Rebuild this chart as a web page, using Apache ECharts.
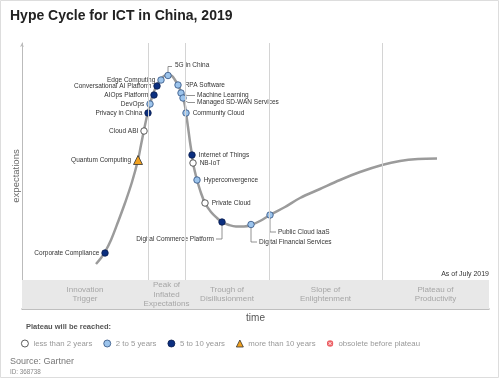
<!DOCTYPE html>
<html><head><meta charset="utf-8">
<script src="https://cdn.jsdelivr.net/npm/echarts@6/dist/echarts.min.js"></script>
<style>html,body{margin:0;padding:0;background:#fff}#c{width:500px;height:379px}</style>
</head><body><div id="c"></div>
<script>
// ---------- data ----------
const curveX = [74,79,83,89,96,103,110,116,119,122,125,128,131,135,139,142,146,150,153,156,159,161,163,164,166,168,170,171,173,175,179,183,189,195,200,207,214,222,229,238,248,263,278,298,318,338,360,378,396,415];
const curveY = [45,51,57,69,87,106,127,149,164,179,193,205,215,224,230,233,234.5,233,229,224,217,211,203,196,182,167,154,146,137,129,116,106,97,91,87,84,82.5,82.5,84,88,94,102,111,120,129,137,144,148,150,150.5];

const techNames = ['Corporate Compliance','Quantum Computing','Cloud ABI','Privacy in China','DevOps','AIOps Platform','Conversational AI Platform','Edge Computing','5G in China','RPA Software','Machine Learning','Managed SD-WAN Services','Community Cloud','Internet of Things','NB-IoT','Hyperconvergence','Private Cloud','Digital Commerce Platform','Digital Financial Services','Public Cloud IaaS'];
const techX = [83,116,122,126,128,132,135,139,146,156,159,161,164,170,171,175,183,200,229,248];
const techY = [56,149,178,196,205,214,223,229,233.5,224,216,211,196,154,146,129,106,87,84.5,94];
const techPlateau = [2,3,0,2,1,2,2,1,1,1,1,1,1,2,0,1,0,2,1,1];

const plateauCategories = ['less than 2 years','2 to 5 years','5 to 10 years','more than 10 years','obsolete before plateau'];
const phaseNames = ['Innovation\nTrigger','Peak of\nInflated\nExpectations','Trough of\nDisillusionment','Slope of\nEnlightenment','Plateau of\nProductivity'];
const phaseBounds = [0,126,163,247,360,467];
const xMax = 467, yMax = 266, bandTop = 29;

// ---------- layout / style ----------
const FONT = "'Liberation Sans', Arial, Helvetica, sans-serif";
const leftLabels = ['Corporate Compliance','Quantum Computing','Cloud ABI','Privacy in China','DevOps','AIOps Platform','Conversational AI Platform','Edge Computing'];
const leaders = {
  '5G in China': {path:[[0,-3],[0,-9],[4,-9]], text:[7,-10], align:'left'},
  'Machine Learning': {path:[[3,1],[6,2.5],[14,2.5]], text:[16,2], align:'left'},
  'Managed SD-WAN Services': {path:[[2,2.5],[5,4.5],[12,4.5]], text:[14,4.5], align:'left'},
  'Digital Commerce Platform': {path:[[0,3],[0,17],[-6,17]], text:[-8,17], align:'right'},
  'Digital Financial Services': {path:[[0,3],[0,17.5],[6,17.5]], text:[8,17.5], align:'left'},
  'Public Cloud IaaS': {path:[[0,3],[0,17],[6,17]], text:[8,17], align:'left'}
};
const catStyle = [
  {symbol:'circle', size:6.5, color:'#ffffff', border:'#333333'},
  {symbol:'circle', size:6.5, color:'#9cc4ec', border:'#2f4f7f'},
  {symbol:'circle', size:6.5, color:'#0b2f80', border:'#0a1d4d'},
  {symbol:'triangle', size:9, color:'#f2a11f', border:'#333333'}
];
const obsoleteIcon = 'image://data:image/svg+xml;charset=utf-8,' + encodeURIComponent(
  '<svg xmlns="http://www.w3.org/2000/svg" width="16" height="16"><circle cx="8" cy="8" r="7.5" fill="#e8393f"/><path d="M5 5L11 11M11 5L5 11" stroke="#fff" stroke-width="2.2"/></svg>');

const chart = echarts.init(document.getElementById('c'), null, {renderer:'canvas'});

const scatterSeries = catStyle.map((s, ci) => ({
  name: plateauCategories[ci],
  type: 'scatter',
  z: 4,
  symbol: s.symbol,
  symbolSize: s.size,
  itemStyle: {color: s.color, borderColor: s.border, borderWidth: 0.8, opacity: 1},
  label: {show: true, fontSize: 6.5, fontFamily: FONT, color: '#333', formatter: '{b}'},
  emphasis: {disabled: true},
  data: techNames.map((n, i) => ({n, i})).filter(o => techPlateau[o.i] === ci).map(o => ({
    name: o.n,
    value: [techX[o.i], techY[o.i]],
    label: leaders[o.n] ? {show: false} :
      {show: true, position: leftLabels.includes(o.n) ? 'left' : 'right', distance: leftLabels.includes(o.n) ? 2 : 3}
  }))
}));

const leaderNames = techNames.filter(n => leaders[n]);

const option = {
  animation: false,
  title: {text: 'Hype Cycle for ICT in China, 2019', left: 10, top: 9, padding: 0,
    textStyle: {fontSize: 14, fontWeight: 'bold', color: '#222', fontFamily: FONT}},
  grid: {left: 22, top: 43, width: 467, height: 266, containLabel: false},
  xAxis: {type: 'value', min: 0, max: xMax,
    axisLine: {show: true, lineStyle: {color: '#aaaaaa', width: 1.5}},
    axisTick: {show: false}, axisLabel: {show: false}, splitLine: {show: false},
    name: 'time', nameLocation: 'middle', nameGap: 4,
    nameTextStyle: {color: '#555', fontSize: 10, fontFamily: FONT}},
  yAxis: {type: 'value', min: 0, max: yMax,
    axisLine: {show: true, symbol: ['none','arrow'], symbolSize: [3,4], lineStyle: {color: '#bbbbbb', width: 1}},
    axisTick: {show: false}, axisLabel: {show: false}, splitLine: {show: false},
    name: 'expectations', nameLocation: 'middle', nameGap: 1, nameRotate: 90,
    nameTextStyle: {color: '#666', fontSize: 9.5, fontFamily: FONT}},
  legend: {
    left: 21, top: 339.5, padding: 0, itemWidth: 7, itemHeight: 7, itemGap: 11,
    selectedMode: false,
    itemStyle: {borderWidth: 0.8},
    textStyle: {color: '#999', fontSize: 7.8, fontFamily: FONT},
    data: plateauCategories.map((n, i) => i === 4 ? {name: n, icon: obsoleteIcon} : {name: n})
  },
  graphic: [
    {type: 'rect', silent: true, z: -10, shape: {x: 0.5, y: 0.5, width: 498, height: 377},
      style: {fill: 'none', stroke: '#dddddd', lineWidth: 1}},
    {type: 'text', x: 489, y: 274, silent: true,
      style: {text: 'As of July 2019', align: 'right', verticalAlign: 'middle', font: '7px ' + FONT, fill: '#333'}},
    {type: 'text', x: 26, y: 327, silent: true,
      style: {text: 'Plateau will be reached:', verticalAlign: 'middle', font: 'bold 7.5px ' + FONT, fill: '#555'}},
    {type: 'text', x: 10, y: 362, silent: true,
      style: {text: 'Source: Gartner', verticalAlign: 'middle', font: '9px ' + FONT, fill: '#777'}},
    {type: 'text', x: 10, y: 372, silent: true,
      style: {text: 'ID: 368738', verticalAlign: 'middle', font: '6.3px ' + FONT, fill: '#888'}}
  ],
  series: [
    {
      name: 'phases', type: 'line', z: 1, silent: true,
      data: [[0, 0]], symbol: 'none', lineStyle: {opacity: 0},
      markArea: {
        silent: true,
        itemStyle: {color: '#e8e8e8'},
        label: {show: true, position: 'inside', color: '#a6a6a6', fontSize: 8, lineHeight: 9.5, fontFamily: FONT},
        data: phaseNames.map((n, i) => [{name: n, xAxis: phaseBounds[i], yAxis: 0}, {xAxis: phaseBounds[i+1], yAxis: bandTop}])
      },
      markLine: {
        silent: true, symbol: 'none', label: {show: false},
        lineStyle: {color: '#d4d4d4', width: 1, type: 'solid'},
        data: phaseBounds.slice(1, -1).map(x => [{coord: [x, bandTop]}, {coord: [x, yMax]}])
      }
    },
    {
      name: 'curve', type: 'line', z: 2, silent: true, smooth: 0.35, symbol: 'none',
      lineStyle: {color: '#9b9b9b', width: 2.5},
      data: curveX.map((x, i) => [x, curveY[i]])
    },
    {
      name: 'leaders', type: 'custom', z: 3, silent: true,
      coordinateSystem: 'cartesian2d',
      data: leaderNames.map(n => { const i = techNames.indexOf(n); return [techX[i], techY[i], leaderNames.indexOf(n)]; }),
      renderItem: function (params, api) {
        const p = api.coord([api.value(0), api.value(1)]);
        const name = leaderNames[api.value(2)];
        const L = leaders[name];
        return {type: 'group', children: [
          {type: 'polyline', shape: {points: L.path.map(d => [p[0] + d[0], p[1] + d[1]])},
            style: {stroke: '#777', lineWidth: 0.8, fill: null}},
          {type: 'text', style: {text: name, x: p[0] + L.text[0], y: p[1] + L.text[1], align: L.align,
            verticalAlign: 'middle', font: '6.5px ' + FONT, fill: '#333'}}
        ]};
      }
    },
    ...scatterSeries,
    {name: plateauCategories[4], type: 'scatter', data: [], itemStyle: {color: '#e8393f'}}
  ]
};
chart.setOption(option);
</script>
</body></html>
